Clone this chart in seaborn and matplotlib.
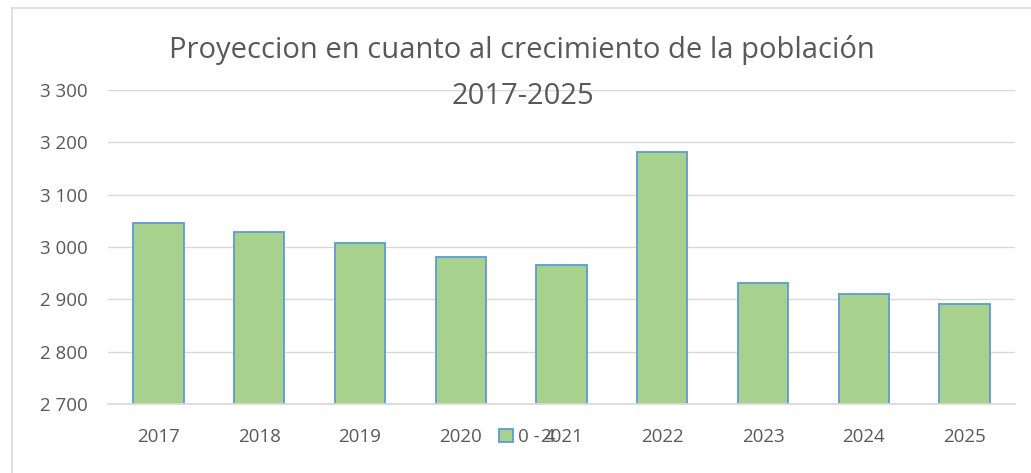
import matplotlib
matplotlib.use("Agg")
import matplotlib.pyplot as plt
import matplotlib.ticker as mticker
from matplotlib.lines import Line2D
import pandas as pd
import seaborn as sns

years = ["2017", "2018", "2019", "2020", "2021", "2022", "2023", "2024", "2025"]
values = [3046, 3029, 3008, 2981, 2966, 3181, 2932, 2910, 2892]
series_name = "0 - 4"
title_lines = ["Proyeccion en cuanto al crecimiento de la población", "2017-2025"]

sns.set_theme(style="white")
plt.rcParams["font.family"] = ["Open Sans", "DejaVu Sans"]

TEXT = "#595959"
GRID = "#D9D9D9"
BAR = "#A9D18E"
EDGE = "#5B9BD5"

df = pd.DataFrame({"year": years, "value": values})

fig = plt.figure(figsize=(10.31, 4.73), dpi=100)
ax = fig.add_axes([108 / 1031, 1 - 404 / 473, (1015 - 108) / 1031, (404 - 90) / 473])

sns.barplot(data=df, x="year", y="value", ax=ax, color=BAR, width=0.5,
            edgecolor=EDGE, linewidth=1.3, saturation=1)
ax.set_ylim(2700, 3300)
ax.set_xlim(-0.5, len(years) - 0.5)
ax.yaxis.set_major_locator(mticker.MultipleLocator(100))
ax.yaxis.set_major_formatter(mticker.FuncFormatter(lambda v, p: f"{int(v):,}".replace(",", " ")))
ax.grid(axis="y", color=GRID, linewidth=1)
ax.set_axisbelow(True)
for s in ["left", "right", "top"]:
    ax.spines[s].set_visible(False)
ax.spines["bottom"].set_color(GRID)
ax.tick_params(axis="both", length=0, labelsize=13.5, labelcolor=TEXT)
ax.tick_params(axis="x", pad=17)
ax.tick_params(axis="y", pad=49)
for lbl in ax.get_yticklabels():
    lbl.set_horizontalalignment("left")
ax.set_xlabel("")
ax.set_ylabel("")

fig.text(522 / 1031, 1 - 50 / 473, title_lines[0], ha="center", va="center",
         fontsize=21, color=TEXT)
fig.text(523 / 1031, 1 - 97 / 473, title_lines[1], ha="center", va="center",
         fontsize=21, color=TEXT)

handle = plt.Rectangle((0, 0), 1, 1, facecolor=BAR, edgecolor=EDGE, linewidth=1.3)
fig.legend([handle], [series_name], loc="center", bbox_to_anchor=(527 / 1031, 1 - 437 / 473),
           frameon=False, fontsize=13.5, labelcolor=TEXT, handlelength=0.75, handleheight=0.75,
           handletextpad=0.3, borderpad=0, borderaxespad=0)

fig.add_artist(Line2D([12 / 1031, 12 / 1031], [0, 1 - 8 / 473], color=GRID, linewidth=1.2))
fig.add_artist(Line2D([12 / 1031, 1], [1 - 8 / 473, 1 - 8 / 473], color=GRID, linewidth=1.2))

fig.savefig("out.png", dpi=100)
